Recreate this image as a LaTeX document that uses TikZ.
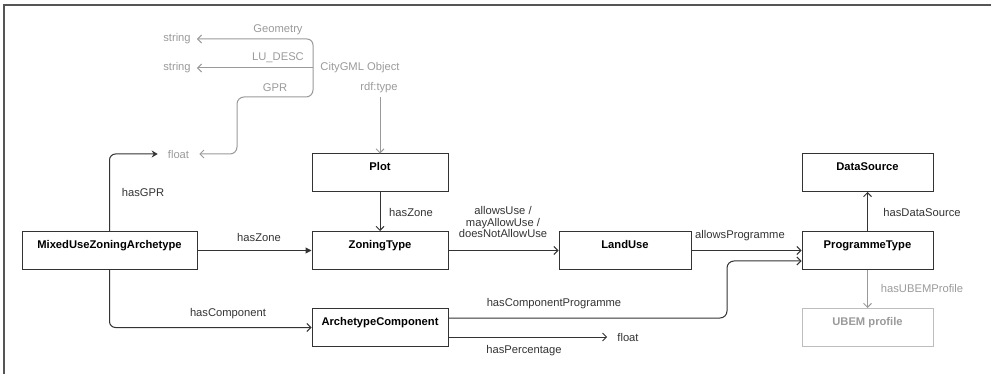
\documentclass[tikz,border=0pt]{standalone}
\usepackage{fontspec}
\setmainfont{Liberation Sans}
\usetikzlibrary{arrows.meta}
\definecolor{ink}{HTML}{333333}
\definecolor{faint}{HTML}{9A9A9A}
\definecolor{faintbox}{HTML}{BDBDBD}
\definecolor{frame}{HTML}{555555}
\tikzset{
	cls/.style={draw=ink, line width=1pt, minimum width=136pt, minimum height=38pt, inner xsep=0pt, inner ysep=4pt, text height=13pt, text depth=17pt, font=\bfseries, text=black},
	lit/.style={inner xsep=6pt, inner ysep=2pt, text=ink},
	lbl/.style={inner sep=0pt, text=ink, align=center},
	link/.style={draw=ink, line width=1pt, -{Straight Barb[length=4pt,width=8pt]}},
	pale/.style={draw=faint, line width=1pt, -{Straight Barb[length=4pt,width=8pt]}},
	solidtip/.style={draw=ink, line width=1pt, -{Triangle[length=6pt,width=6pt]}},
}

\begin{document}
\fontsize{11.2}{13.4}\selectfont
\begin{tikzpicture}[x=1pt, y=-1pt]
	%%%%% START %%%%%
	\useasboundingbox (0,0) rectangle (991,374);
	\draw[line width=2pt, color=frame] (4,374) -- (4,5.5) -- (991,5.5);
	
	% classes
	\node[cls] (plot) at (380,173) {Plot};
	\node[cls] (zoning) at (380,250.5) {ZoningType};
	\node[cls, minimum width=175pt] (mixed) at (109.5,250.5) {MixedUseZoningArchetype};
	\node[cls] (comp) at (380,327.5) {ArchetypeComponent};
	\node[cls, minimum width=132pt] (landuse) at (625,250.5) {LandUse};
	\node[cls, minimum width=131pt] (prog) at (867.5,250.5) {ProgrammeType};
	\node[cls, minimum width=131pt] (datasrc) at (867.5,172.5) {DataSource};
	\node[cls, minimum width=131pt, draw=faintbox, text=faint] (ubem) at (867.5,327.5) {UBEM profile};
	
	% literals
	\node[lit, text=faint, inner xsep=0pt] (citygml) at (360,68) {CityGML Object};
	\coordinate (cgw) at (313,68);
	\node[lit, text=faint] (str1) at (177,39) {string};
	\node[lit, text=faint] (str2) at (177,68) {string};
	\node[lit, text=faint, inner xsep=10pt] (flt1) at (178.5,154) {float};
	\node[lit, inner xsep=10pt] (flt2) at (628,337) {float};
	\node[lit, text=faint, inner ysep=4pt] (rdf) at (379,88) {rdf:type};
	
	% CityGML attributes
	\draw[pale, rounded corners=6pt] (cgw) |- (str1);
	\draw[pale] (cgw) -- (str2);
	\draw[pale, rounded corners=7pt] (cgw) |- (237,97) |- (flt1);
	\node[lbl, text=faint] (geomlbl) at (278,30) {Geometry};
	\node[lbl, text=faint] (desclbl) at (278,58) {LU\_DESC};
	\node[lbl, text=faint] (gprlbl) at (275,88) {GPR};
	\draw[pale] (rdf.south -| plot.north) -- (plot.north);
	
	% archetype
	\draw[draw=ink, line width=1pt, -{Stealth[length=6pt,width=7pt]}, rounded corners=6pt] (mixed.north) |- (flt1.west);
	\node[lbl] (gprrel) at (143,192) {hasGPR};
	\draw[solidtip] (mixed) -- (zoning);
	\node[lbl] (zonerel) at (259,237) {hasZone};
	\draw[link, rounded corners=6pt] (mixed.south) |- (comp.west);
	\node[lbl] (comprel) at (228,314) {hasComponent};
	
	% zoning chain
	\draw[link] (plot) -- (zoning);
	\node[lbl] (plotrel) at (411,212) {hasZone};
	\draw[link] (zoning) -- (landuse);
	\node[lbl] (userel) at (503,222) {allowsUse /\\[-1.5pt] mayAllowUse /\\[-1.5pt] doesNotAllowUse};
	\draw[link] (landuse) -- (prog);
	\node[lbl] (progrel) at (740,236) {allowsProgramme};
	
	% component
	\draw[link, rounded corners=7pt] ([yshift=9.5pt]comp.east) -- (727,318) |- ([yshift=-10.5pt]prog.west);
	\node[lbl] (cprel) at (554,304) {hasComponentProgramme};
	\draw[link] ([yshift=-9.5pt]comp.east) -- (flt2.west);
	\node[lbl] (pctrel) at (524,351) {hasPercentage};
	
	% programme
	\draw[link] (prog) -- (datasrc);
	\node[lbl] (dsrel) at (922,212) {hasDataSource};
	\draw[pale] (prog) -- (ubem);
	\node[lbl, text=faint] (ubemrel) at (922,288) {hasUBEMProfile};
	
	%%%%% END %%%%%
\end{tikzpicture}
\end{document}
